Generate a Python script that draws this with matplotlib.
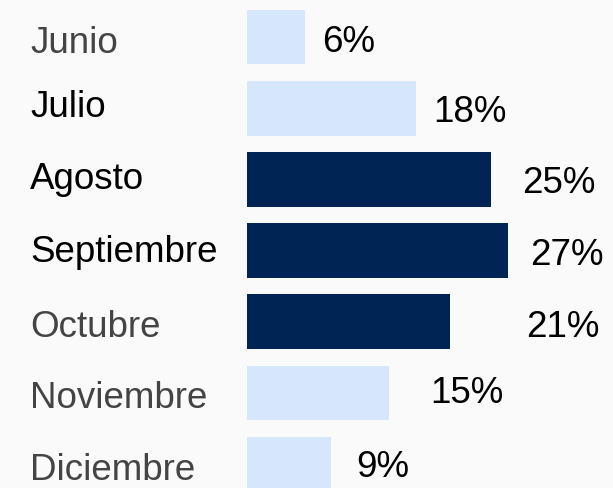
import matplotlib.pyplot as plt

plt.rcParams['font.family'] = ['Liberation Sans', 'DejaVu Sans']

meses = ['Junio', 'Julio', 'Agosto', 'Septiembre', 'Octubre', 'Noviembre', 'Diciembre']
valores = [6.0, 17.6, 25.4, 27.2, 21.1, 14.8, 8.75]
etiquetas = ['6%', '18%', '25%', '27%', '21%', '15%', '9%']
destacado = [False, False, True, True, True, False, False]

# layout (pixels)
base_mes = [53, 117, 189, 262, 337, 408, 480]
base_val = [52, 122, 193, 265, 337, 403, 477]
x_val = [322, 433, 522, 530, 526, 430, 356]
gris_mes = [True, False, False, False, True, True, True]

W, H = 613, 488
fig = plt.figure(figsize=[W/100, H/100], dpi=100)
fig.patch.set_facecolor('#fafafa')
ax = fig.add_axes([0, 0, 1, 1])
ax.set_facecolor('#fafafa')

px = 9.6
x0 = 247
ax.set_xlim(-x0/px, (W - x0)/px)
paso = 71.2
c0 = 37
ax.set_ylim((H - c0)/paso, -c0/paso)
ax.axis('off')

colores = ['#002453' if d else '#d6e6fd' for d in destacado]
ax.barh(range(len(meses)), valores, height=0.77, color=colores)

for i in range(len(meses)):
    fig.text(30/W, 1 - base_mes[i]/H, meses[i], fontsize=26.5, va='baseline', ha='left',
             color='#444444' if gris_mes[i] else '#000000')
    fig.text(x_val[i]/W, 1 - base_val[i]/H, etiquetas[i], fontsize=26.5, va='baseline', ha='left',
             color='#000000')

fig.savefig('out.png', dpi=100, facecolor=fig.get_facecolor())
